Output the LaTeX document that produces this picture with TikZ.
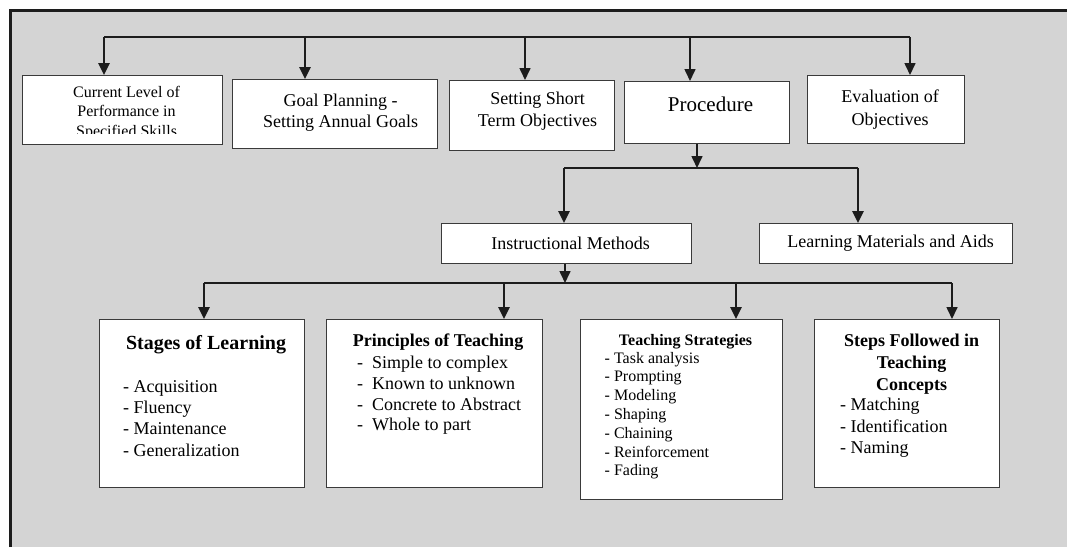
\documentclass[tikz,border=0pt]{standalone}
\usepackage{fontspec}
\setmainfont{Liberation Serif}
\usetikzlibrary{positioning,arrows.meta}

\definecolor{panel}{HTML}{D4D4D4}
\definecolor{ink}{HTML}{1C1C1C}
\definecolor{edge}{HTML}{3A3A3A}

\begin{document}
\begin{tikzpicture}[
  x=1pt, y=-1pt,
  box/.style={draw=edge, fill=white, line width=1.1pt, inner sep=0pt, anchor=north west},
  lbl/.style={font=\fontsize{18}{21.5}\selectfont, align=center, inner sep=0pt},
  hd/.style={font=\bfseries\fontsize{18}{21.8}\selectfont, align=center, inner sep=0pt},
  lst/.style={font=\fontsize{18}{21.3}\selectfont, align=left, inner sep=0pt},
  bar/.style={draw=ink, line width=1.3pt},
  feed/.style={draw=ink, line width=2.6pt, -{Triangle[length=12pt,width=11pt]}},
  thinfeed/.style={feed, line width=1.6pt},
]
\useasboundingbox (0,0) rectangle (1067,547);

% ===== grey panel (cut at right and bottom) =====
\fill[panel] (10.7,10.7) rectangle (1067,547);
\draw[ink, line width=3pt] (10.7,547) -- (10.7,10.7) -- (1067,10.7);

% ===== top row =====
\node[box, minimum width=200pt, minimum height=69pt] (cur) at (22,75) {};
\node[box, minimum width=205pt, minimum height=69pt] (goal) at (232,79) {};
\node[box, minimum width=165pt, minimum height=70pt] (short) at (449,80) {};
\node[box, minimum width=165pt, minimum height=62pt] (proc) at (624,81) {};
\node[box, minimum width=157pt, minimum height=68pt] (eval) at (807,75) {};

\begin{scope}
  \clip (cur.north west) rectangle ([yshift=12pt]cur.south east);
  \node[lbl, font=\fontsize{16}{19.5}\selectfont, below=11pt of cur.north, xshift=4pt] (curT)
    {Current Level of\\Performance in\\Specified Skills};
\end{scope}
\node[lbl, font=\fontsize{18}{21}\selectfont, below=14.7pt of goal.north, xshift=5.5pt] (goalT)
  {Goal Planning -\\Setting Annual Goals};
\node[lbl, font=\fontsize{18}{22}\selectfont, below=12pt of short.north, xshift=5.5pt] (shortT)
  {Setting Short\\Term Objectives};
\node[lbl, font=\fontsize{21}{24}\selectfont, below=16pt of proc.north, xshift=3.5pt] (procT) {Procedure};
\node[lbl, font=\fontsize{18}{23}\selectfont, below=14.7pt of eval.north, xshift=4pt] (evalT)
  {Evaluation of\\Objectives};

% ===== middle row =====
\node[box, minimum width=250pt, minimum height=40pt] (im) at (441,223) {};
\node[box, minimum width=253pt, minimum height=40pt] (lm) at (759,223) {};
\node[lbl] (imT) at ([xshift=4pt]im.center) {Instructional Methods};
\node[lbl] (lmT) at ([xshift=4.5pt]lm.center) {Learning Materials and Aids};

% ===== bottom row =====
\node[box, minimum width=205pt, minimum height=168pt] (stages) at (99,319) {};
\node[box, minimum width=216pt, minimum height=168pt] (princ) at (326,319) {};
\node[box, minimum width=202pt, minimum height=180pt] (strat) at (580,319) {};
\node[box, minimum width=185pt, minimum height=168pt] (steps) at (814,319) {};

\node[hd, font=\bfseries\fontsize{20}{24}\selectfont, below=16pt of stages.north, xshift=4pt] (stagesT)
  {Stages of Learning};
\node[lst, below right=61pt and 24pt of stages.north west] (stagesL)
  {- Acquisition\\- Fluency\\- Maintenance\\- Generalization};

\node[hd, below=15pt of princ.north, xshift=3.5pt] (princT) {Principles of Teaching};
\node[lst, font=\fontsize{18}{20.7}\selectfont, below right=37pt and 31pt of princ.north west] (princL)
  {-\ \ Simple to complex\\-\ \ Known to unknown\\-\ \ Concrete to Abstract\\-\ \ Whole to part};

\node[hd, font=\bfseries\fontsize{16}{19}\selectfont, below=15pt of strat.north, xshift=4pt] (stratT)
  {Teaching Strategies};
\node[lst, font=\fontsize{16}{18.8}\selectfont, below right=32.7pt and 24.5pt of strat.north west] (stratL)
  {- Task analysis\\- Prompting\\- Modeling\\- Shaping\\- Chaining\\- Reinforcement\\- Fading};

\node[hd, below=15pt of steps.north, xshift=4.5pt] (stepsT)
  {Steps Followed in\\Teaching\\Concepts};
\node[lst, font=\fontsize{18}{21.7}\selectfont, below right=78.7pt and 26pt of steps.north west] (stepsL)
  {- Matching\\- Identification\\- Naming};

% ===== top fan-out =====
\coordinate (tcur) at (104,37);
\coordinate (tgoal) at (305,37);
\coordinate (tshort) at (525,37);
\coordinate (tproc) at (690,37);
\coordinate (teval) at (910,37);
\draw[bar] (tcur) -- (teval);
\draw[feed] (tcur) -- (tcur |- cur.north);
\draw[feed] (tgoal) -- (tgoal |- goal.north);
\draw[thinfeed] (tshort) -- (tshort |- short.north);
\draw[thinfeed] (tproc) -- (tproc |- proc.north);
\draw[thinfeed] (teval) -- (teval |- eval.north);

% ===== procedure fork =====
\coordinate (mid) at (697,168);
\coordinate (mim) at (564,168);
\coordinate (mlm) at (858,168);
\draw[thinfeed] (mid |- proc.south) -- (mid);
\draw[bar, line width=2pt] (mim) -- (mlm);
\draw[feed] (mim) -- (mim |- im.north);
\draw[feed] (mlm) -- (mlm |- lm.north);

% ===== methods fan-out =====
\coordinate (low) at (565,283);
\coordinate (bstages) at (204,283);
\coordinate (bprinc) at (504,283);
\coordinate (bstrat) at (736,283);
\coordinate (bsteps) at (952,283);
\draw[thinfeed] (low |- im.south) -- (low);
\draw[bar] (bstages) -- (bsteps);
\draw[feed] (bstages) -- (bstages |- stages.north);
\draw[feed] (bprinc) -- (bprinc |- princ.north);
\draw[feed] (bstrat) -- (bstrat |- strat.north);
\draw[thinfeed] (bsteps) -- (bsteps |- steps.north);
\end{tikzpicture}
\end{document}
